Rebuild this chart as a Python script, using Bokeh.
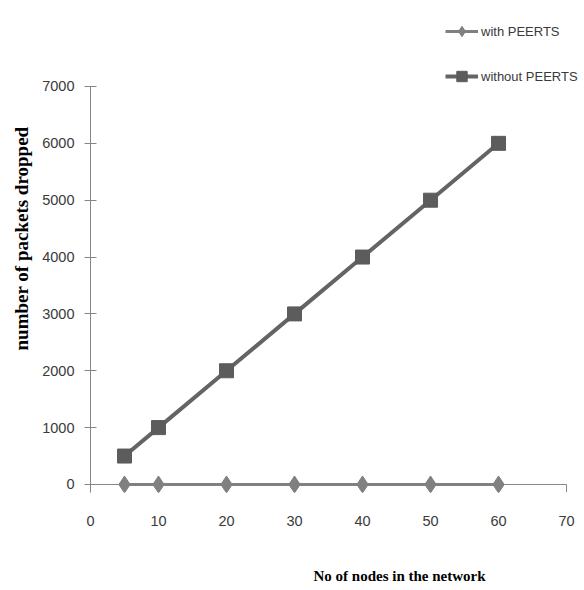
from bokeh.plotting import figure
from bokeh.models import Range1d, FixedTicker, Legend, LegendItem, Title
from bokeh.embed import file_html
from bokeh.resources import INLINE

nodes = [5, 10, 20, 30, 40, 50, 60]
with_peerts = [0, 0, 0, 0, 0, 0, 0]
without_peerts = [500, 1000, 2000, 3000, 4000, 5000, 6000]
x_ticks = [0, 10, 20, 30, 40, 50, 60, 70]
y_ticks = [0, 1000, 2000, 3000, 4000, 5000, 6000, 7000]

AXIS = "#868686"
TICK_TXT = "#3a3a3a"

# frame reaches the top and right edges so the legend can sit above the 7000 line
p = figure(width=584, height=590, output_backend="svg", toolbar_location=None,
           x_range=Range1d(0, 72.64), y_range=Range1d(-141, 8512),
           min_border_left=89, min_border_right=0, min_border_top=0, min_border_bottom=98)
p.outline_line_color = None
p.xgrid.grid_line_color = None
p.ygrid.grid_line_color = None

# y axis
p.yaxis.ticker = FixedTicker(ticks=y_ticks)
p.yaxis.bounds = (-141, y_ticks[-1])
p.yaxis.axis_line_color = AXIS
p.yaxis.major_tick_line_color = AXIS
p.yaxis.major_tick_in = 6
p.yaxis.major_tick_out = 6
p.yaxis.minor_tick_line_color = None
p.yaxis.major_label_standoff = 10
p.yaxis.major_label_text_font = "Liberation Sans"
p.yaxis.major_label_text_font_size = "14.5px"
p.yaxis.major_label_text_color = TICK_TXT

# x axis (labels only; line drawn at y=0)
p.xaxis.ticker = FixedTicker(ticks=x_ticks)
p.xaxis.axis_line_color = None
p.xaxis.major_tick_line_color = None
p.xaxis.major_tick_in = 0
p.xaxis.major_tick_out = 0
p.xaxis.minor_tick_line_color = None
p.xaxis.major_label_standoff = 23
p.xaxis.major_label_text_font = "Liberation Sans"
p.xaxis.major_label_text_font_size = "14.5px"
p.xaxis.major_label_text_color = TICK_TXT
# blank axis label used as vertical room before the x title
p.xaxis.axis_label = " "
p.xaxis.axis_label_text_font_size = "10px"
p.xaxis.axis_label_standoff = 23

# x axis line at zero and its tick marks
p.segment(x0=[x_ticks[0]], y0=[0], x1=[x_ticks[-1]], y1=[0], line_color=AXIS, line_width=1)
p.segment(x0=x_ticks, y0=[0] * len(x_ticks), x1=x_ticks, y1=[-141] * len(x_ticks),
          line_color=AXIS, line_width=1)

# series
l1 = p.line(nodes, with_peerts, line_color="#808080", line_width=3)
s1 = p.scatter(nodes, with_peerts, marker="diamond", size=17,
               fill_color="#808080", line_color="#808080")
l2 = p.line(nodes, without_peerts, line_color="#646464", line_width=4)
s2 = p.scatter(nodes, without_peerts, marker="square", size=14,
               fill_color="#5c5c5c", line_color="#5c5c5c")

legend = Legend(items=[LegendItem(label="with PEERTS", renderers=[l1, s1]),
                       LegendItem(label="without PEERTS", renderers=[l2, s2])],
                location=(355, 403), orientation="vertical",
                glyph_width=33, glyph_height=26, label_height=26, spacing=19,
                label_standoff=3, padding=6, margin=0,
                label_text_font="Liberation Sans", label_text_font_size="13px",
                label_text_color=TICK_TXT,
                border_line_color=None, background_fill_alpha=0)
p.add_layout(legend)

p.add_layout(Title(text="No of nodes in the network", align="left", offset=223,
                   vertical_align="bottom", standoff=0,
                   text_font="Liberation Serif", text_font_style="bold",
                   text_font_size="15px", text_color="#000000"), "below")

ytitle_len = 227
p.add_layout(Title(text="number of packets dropped", align="left",
                   offset=492 - (237 + ytitle_len // 2),
                   vertical_align="bottom", standoff=16,
                   text_font="Liberation Serif", text_font_style="bold",
                   text_font_size="19px", text_color="#000000"), "left")

open("out.html", "w").write(file_html(p, INLINE))
